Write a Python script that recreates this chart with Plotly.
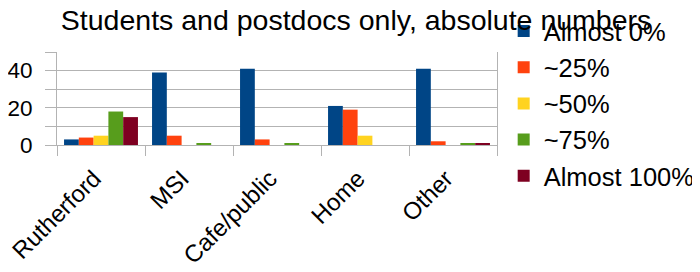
import plotly.graph_objects as go

categories = ["Rutherford", "MSI", "Cafe/public", "Home", "Other"]
series_names = ["Almost 0%", "~25%", "~50%", "~75%", "Almost 100%"]
almost0 = [3, 39, 41, 21, 41]
p25 = [4, 5, 3, 19, 2]
p50 = [5, 0, 0, 5, 0]
p75 = [18, 1, 1, 0, 1]
almost100 = [15, 0, 0, 0, 1]
series_values = [almost0, p25, p50, p75, almost100]
colors = ["#004586", "#ff420e", "#ffd320", "#579d1c", "#7e0021"]

fig = go.Figure()
for i, (name, vals, col) in enumerate(zip(series_names, series_values, colors)):
    fig.add_trace(go.Bar(x=categories, y=vals, name=name, marker_color=col,
                         marker_line_width=0, legendgroup=f"g{i}"))

grid = "#b3b3b3"
fig.update_layout(
    width=692, height=264,
    margin=dict(l=49, r=203, t=44, b=127, autoexpand=False),
    paper_bgcolor="white", plot_bgcolor="white",
    barmode="group", bargap=0.16, bargroupgap=0,
    font=dict(family="Liberation Sans, Arial, sans-serif", color="black"),
    title=dict(text="Students and postdocs only, absolute numbers",
               x=0.503, xanchor="center", y=0.955, yanchor="middle",
               font=dict(size=28.5)),
    legend=dict(x=0.7163, xref="container", xanchor="left",
                y=1.0, yref="container", yanchor="top",
                font=dict(size=25.5), traceorder="grouped", tracegroupgap=0,
                bgcolor="rgba(0,0,0,0)", maxheight=260),
    showlegend=True,
)
fig.update_yaxes(range=[0, 50], tickvals=[0, 10, 20, 30, 40, 50],
                 ticktext=["0", "", "20", "", "40", ""],
                 showgrid=True, gridcolor=grid, gridwidth=1,
                 showline=True, linecolor=grid, mirror=True,
                 ticks="outside", ticklen=11, tickcolor=grid,
                 ticklabelstandoff=8,
                 tickfont=dict(size=22.5), zeroline=False, automargin=False)
fig.update_xaxes(tickson="boundaries", ticks="outside", ticklen=10, tickcolor=grid,
                 showline=True, linecolor=grid, tickangle=-45,
                 ticklabelstandoff=9, ticklabelshift=-7,
                 tickfont=dict(size=24), showgrid=False, automargin=False)

fig.write_html("out.html")
